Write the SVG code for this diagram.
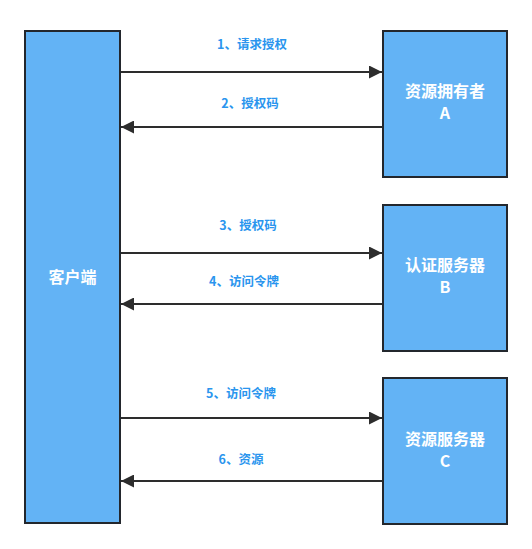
<svg xmlns="http://www.w3.org/2000/svg" width="532" height="549" viewBox="0 0 532 549">
<style>
.box{fill:#63b3f5;stroke:#23272d;stroke-width:2}
.lbl{font-family:"Noto Sans CJK SC","Liberation Sans",sans-serif;font-size:12.5px;font-weight:bold;fill:#2a95ee;text-anchor:middle}
.nt{font-family:"Noto Sans CJK SC","Liberation Sans",sans-serif;font-size:16px;font-weight:bold;fill:#ffffff;text-anchor:middle}
.ln{stroke:#2d2d2d;stroke-width:2;fill:none}
</style>
<defs>
<marker id="ah" viewBox="0 0 10 10" refX="10" refY="5" markerWidth="6.5" markerHeight="6.5" markerUnits="strokeWidth" orient="auto">
<path d="M0,0 L10,5 L0,10 Z" fill="#2d2d2d"/>
</marker>
</defs>
<rect width="532" height="549" fill="#ffffff"/>
<g id="client">
<rect class="box" x="25" y="31" width="95" height="492"/>
<text class="nt" x="72.5" y="283">客户端</text>
</g>
<g id="nodeA">
<rect class="box" x="383" y="31" width="124" height="146"/>
<text class="nt" x="445" y="97">资源拥有者</text>
<text class="nt" x="445" y="119">A</text>
</g>
<g id="nodeB">
<rect class="box" x="383" y="205" width="124" height="146"/>
<text class="nt" x="445" y="271">认证服务器</text>
<text class="nt" x="445" y="293">B</text>
</g>
<g id="nodeC">
<rect class="box" x="383" y="378" width="124" height="146"/>
<text class="nt" x="445" y="445">资源服务器</text>
<text class="nt" x="445" y="467">C</text>
</g>
<g id="connectors">
<line class="ln" x1="121" y1="72" x2="382" y2="72" marker-end="url(#ah)"/>
<line class="ln" x1="382" y1="127" x2="121" y2="127" marker-end="url(#ah)"/>
<line class="ln" x1="121" y1="253" x2="382" y2="253" marker-end="url(#ah)"/>
<line class="ln" x1="382" y1="304" x2="121" y2="304" marker-end="url(#ah)"/>
<line class="ln" x1="121" y1="418" x2="382" y2="418" marker-end="url(#ah)"/>
<line class="ln" x1="382" y1="481" x2="121" y2="481" marker-end="url(#ah)"/>
<text class="lbl" x="252" y="49">1、请求授权</text>
<text class="lbl" x="250" y="108">2、授权码</text>
<text class="lbl" x="248" y="230">3、授权码</text>
<text class="lbl" x="244" y="286">4、访问令牌</text>
<text class="lbl" x="241" y="398">5、访问令牌</text>
<text class="lbl" x="241" y="464">6、资源</text>
</g>
</svg>
